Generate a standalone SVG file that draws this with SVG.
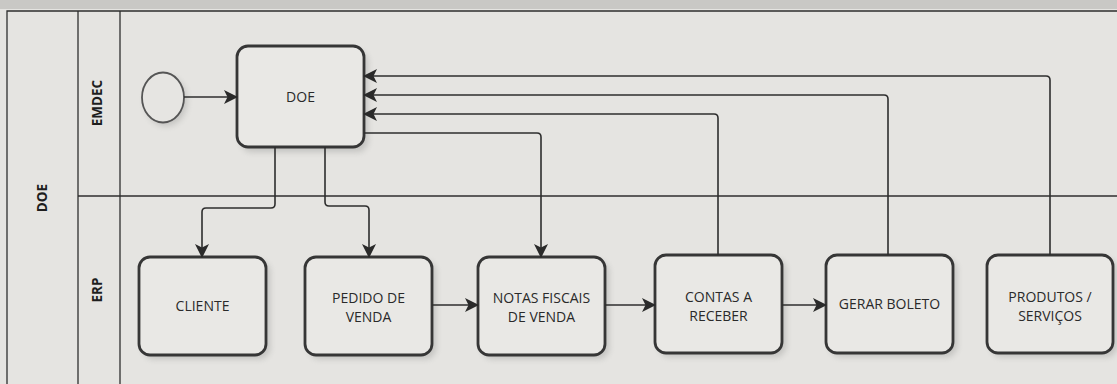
<svg xmlns="http://www.w3.org/2000/svg" width="1117" height="384" viewBox="0 0 1117 384">
<defs>
<style>
.lane{fill:none;stroke:#2e2e2e;stroke-width:1.3}
.task{fill:#e9e8e5;stroke:#363636;stroke-width:2.8}
.shadow{fill:#9a9a98;opacity:0.45}
.lbl{font-family:"Open Sans","Noto Sans",sans-serif;font-size:14px;fill:#2a2a2a;text-anchor:middle}
.lanelbl{font-family:"Open Sans","Noto Sans",sans-serif;font-size:13.5px;font-weight:bold;fill:#1e1e1e;text-anchor:middle}
.conn{fill:none;stroke:#2e2e2e;stroke-width:1.6}
</style>
<marker id="arr" viewBox="0 0 14 14" refX="13" refY="7" markerWidth="14" markerHeight="14" markerUnits="userSpaceOnUse" orient="auto">
<path d="M0,0 L14,7 L0,14 L3.5,7 Z" fill="#2a2a2a"/>
</marker>
<filter id="blur" x="-20%" y="-20%" width="140%" height="140%"><feGaussianBlur stdDeviation="3"/></filter>
</defs>
<rect x="0" y="0" width="1117" height="384" fill="#e5e4e1"/>
<rect x="0" y="0" width="1117" height="9" fill="#c9c8c5"/>
<g id="pool">
<path class="lane" d="M7,384 V11 H1117"/>
<line class="lane" x1="78" y1="11" x2="78" y2="384"/>
<line class="lane" x1="120" y1="11" x2="120" y2="384"/>
<line class="lane" x1="78" y1="196" x2="1117" y2="196"/>
<text class="lanelbl" transform="translate(47,198) rotate(-90)">DOE</text>
<text class="lanelbl" transform="translate(102,103) rotate(-90)">EMDEC</text>
<text class="lanelbl" transform="translate(102,290) rotate(-90)">ERP</text>
</g>
<g id="start">
<ellipse cx="166" cy="101" rx="21" ry="25" class="shadow" filter="url(#blur)"/>
<ellipse cx="163" cy="97.5" rx="21" ry="25" fill="#e6e5e2" stroke="#555" stroke-width="1.8"/>
</g>
<g id="doe">
<rect x="241" y="51" width="127" height="101" rx="11" class="shadow" filter="url(#blur)"/>
<rect x="237" y="46" width="127" height="101" rx="11" class="task"/>
<text class="lbl" x="300.5" y="102">DOE</text>
</g>
<g id="cliente">
<rect x="143" y="261" width="127" height="98" rx="11" class="shadow" filter="url(#blur)"/>
<rect x="139" y="257" width="127" height="98" rx="11" class="task"/>
<text class="lbl" x="202.5" y="311">CLIENTE</text>
</g>
<g id="pedido">
<rect x="309" y="261" width="127" height="98" rx="11" class="shadow" filter="url(#blur)"/>
<rect x="305" y="257" width="127" height="98" rx="11" class="task"/>
<text class="lbl" x="368.5" y="303">PEDIDO DE</text>
<text class="lbl" x="368.5" y="322">VENDA</text>
</g>
<g id="notas">
<rect x="482" y="261" width="127" height="98" rx="11" class="shadow" filter="url(#blur)"/>
<rect x="478" y="257" width="127" height="98" rx="11" class="task"/>
<text class="lbl" x="541.5" y="303">NOTAS FISCAIS</text>
<text class="lbl" x="541.5" y="322">DE VENDA</text>
</g>
<g id="contas">
<rect x="659" y="259" width="127" height="98" rx="11" class="shadow" filter="url(#blur)"/>
<rect x="655" y="255" width="127" height="98" rx="11" class="task"/>
<text class="lbl" x="718.5" y="302">CONTAS A</text>
<text class="lbl" x="718.5" y="321">RECEBER</text>
</g>
<g id="gerar">
<rect x="830" y="259" width="127" height="98" rx="11" class="shadow" filter="url(#blur)"/>
<rect x="826" y="255" width="127" height="98" rx="11" class="task"/>
<text class="lbl" x="889.5" y="309">GERAR BOLETO</text>
</g>
<g id="produtos">
<rect x="991" y="259" width="126" height="98" rx="11" class="shadow" filter="url(#blur)"/>
<rect x="987" y="255" width="126" height="98" rx="11" class="task"/>
<text class="lbl" x="1050" y="302">PRODUTOS /</text>
<text class="lbl" x="1050" y="321">SERVIÇOS</text>
</g>
<g id="connectors">
<path class="conn" d="M184,97 H237" marker-end="url(#arr)"/>
<path class="conn" d="M275,147 V204 Q275,208 271,208 H206 Q202,208 202,212 V257" marker-end="url(#arr)"/>
<path class="conn" d="M325,147 V202 Q325,206 329,206 H365 Q369,206 369,210 V257" marker-end="url(#arr)"/>
<path class="conn" d="M364,133 H537 Q541,133 541,137 V257" marker-end="url(#arr)"/>
<path class="conn" d="M432,305 H478" marker-end="url(#arr)"/>
<path class="conn" d="M605,305 H655" marker-end="url(#arr)"/>
<path class="conn" d="M782,305 H826" marker-end="url(#arr)"/>
<path class="conn" d="M718,255 V118 Q718,114 714,114 H364" marker-end="url(#arr)"/>
<path class="conn" d="M888,255 V99 Q888,95 884,95 H364" marker-end="url(#arr)"/>
<path class="conn" d="M1050,255 V80 Q1050,76 1046,76 H364" marker-end="url(#arr)"/>
</g>
</svg>
